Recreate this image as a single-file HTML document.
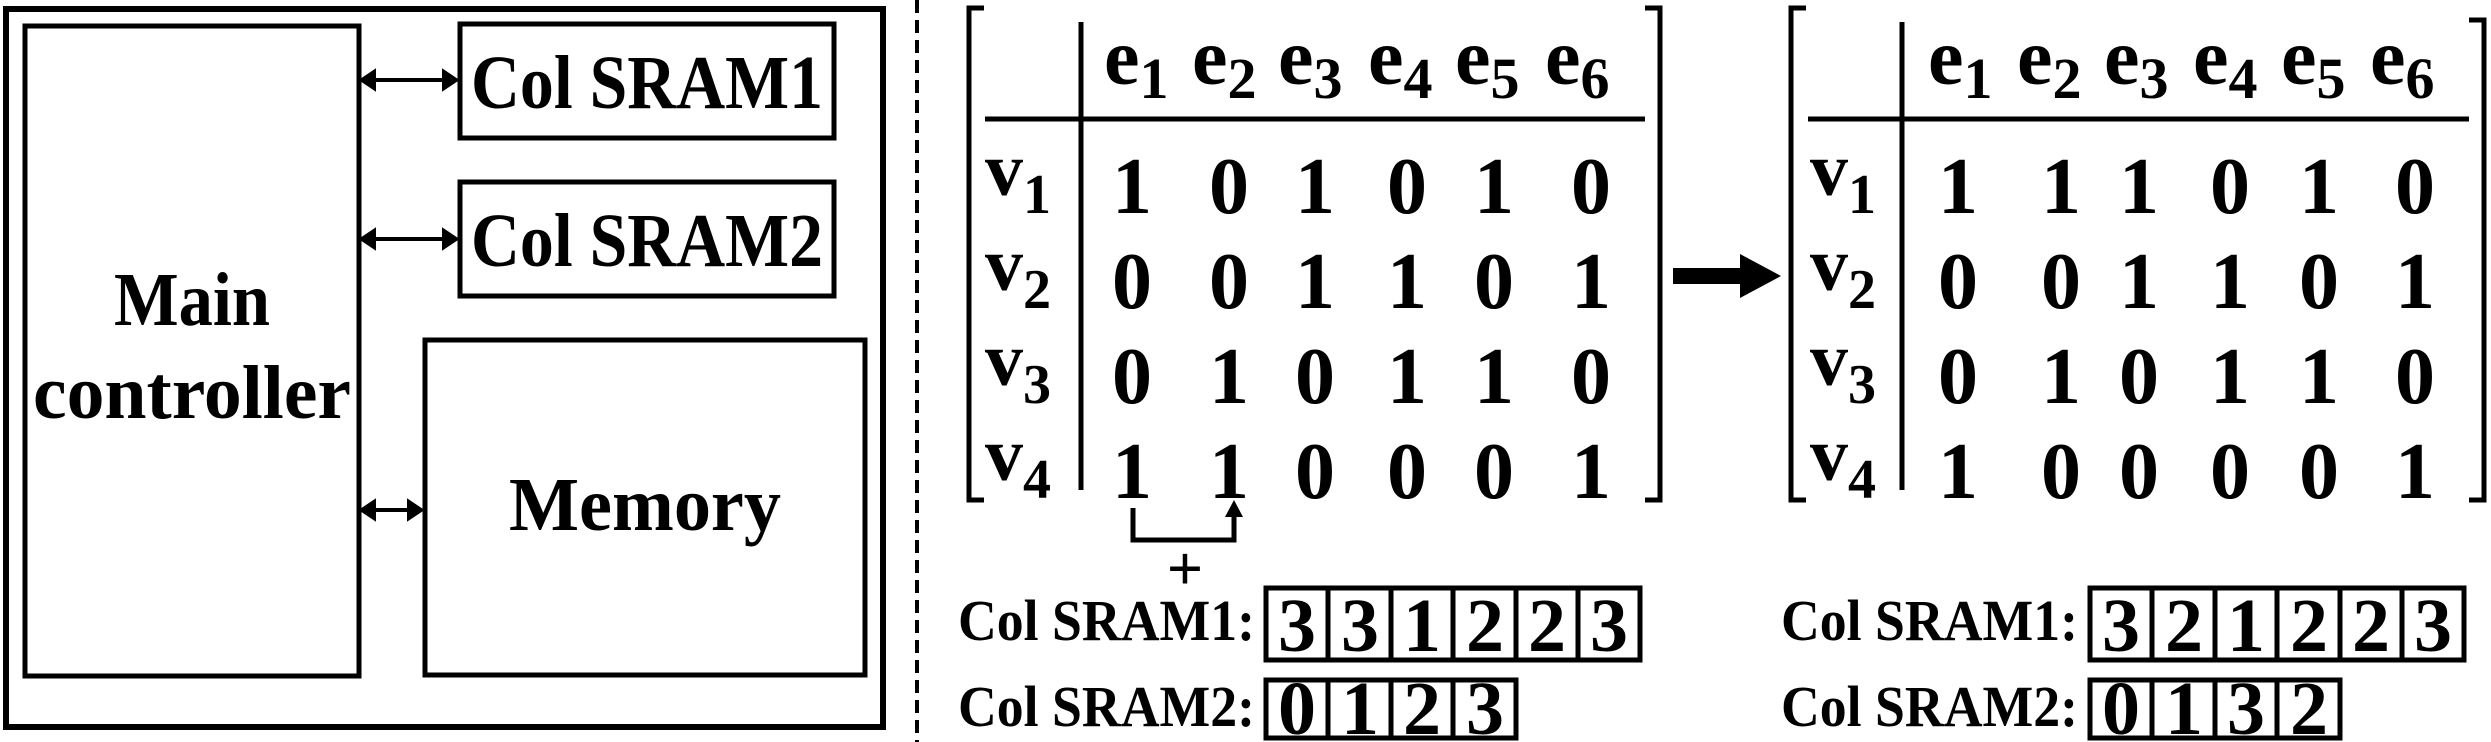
<!DOCTYPE html>
<html><head><meta charset="utf-8"><style>
html,body{margin:0;padding:0;background:#fff;}
svg{display:block;}
text{font-family:"Liberation Serif",serif;fill:#000;}
.b{font-weight:bold;}
</style></head><body>
<svg width="2491" height="742" viewBox="0 0 2491 742" xmlns="http://www.w3.org/2000/svg">
<!-- left panel -->
<rect x="6" y="9" width="877" height="718" fill="none" stroke="#000" stroke-width="6"/>
<rect x="25" y="26" width="334" height="650" fill="none" stroke="#000" stroke-width="5"/>
<rect x="460" y="24" width="374" height="114" fill="none" stroke="#000" stroke-width="5"/>
<rect x="460" y="182" width="374" height="114" fill="none" stroke="#000" stroke-width="5"/>
<rect x="425" y="340" width="440" height="335" fill="none" stroke="#000" stroke-width="5"/>
<g stroke="#000" stroke-width="4">
<line x1="364" y1="80" x2="454" y2="80"/><path d="M362,80 l12,-8 v16z M456,80 l-12,-8 v16z" fill="#000"/>
<line x1="364" y1="239" x2="454" y2="239"/><path d="M362,239 l12,-8 v16z M456,239 l-12,-8 v16z" fill="#000"/>
<line x1="364" y1="510" x2="418" y2="510"/><path d="M362,510 l12,-8 v16z M421,510 l-12,-8 v16z" fill="#000"/>
</g>
<g class="b" font-size="76" text-anchor="middle">
<text x="647" y="108" textLength="352" lengthAdjust="spacingAndGlyphs">Col SRAM1</text>
<text x="647" y="266" textLength="352" lengthAdjust="spacingAndGlyphs">Col SRAM2</text>
<text x="192" y="325" textLength="156" lengthAdjust="spacingAndGlyphs">Main</text>
<text x="192" y="418" textLength="318" lengthAdjust="spacingAndGlyphs">controller</text>
<text x="645" y="530" textLength="272" lengthAdjust="spacingAndGlyphs">Memory</text>
</g>
<!-- dashed -->
<line x1="917" y1="0" x2="917" y2="742" stroke="#000" stroke-width="4" stroke-dasharray="13,7"/>

<!-- matrix 1 -->
<g fill="none" stroke="#000" stroke-width="5">
<path d="M984,8 H969 V500 H984"/>
<path d="M1645,8 H1660 V500 H1645"/>
<line x1="1081" y1="22" x2="1081" y2="490"/>
<line x1="985" y1="119" x2="1645" y2="119"/>
<path d="M1133,508 V540 H1234 V515"/>
</g>
<path d="M1234,500 l-9,17 h18z" fill="#000"/>
<text x="1185" y="590" font-size="64" class="b" text-anchor="middle">+</text>
<g font-size="80" class="b">
<text x="1104" y="84">e<tspan font-size="58" dy="14">1</tspan></text>
<text x="1192" y="84">e<tspan font-size="58" dy="14">2</tspan></text>
<text x="1278" y="84">e<tspan font-size="58" dy="14">3</tspan></text>
<text x="1368" y="84">e<tspan font-size="58" dy="14">4</tspan></text>
<text x="1455" y="84">e<tspan font-size="58" dy="14">5</tspan></text>
<text x="1545" y="84">e<tspan font-size="58" dy="14">6</tspan></text>
</g>
<g font-size="76" class="b">
<text x="985" y="195">v<tspan font-size="56" dy="18">1</tspan></text>
<text x="985" y="290">v<tspan font-size="56" dy="18">2</tspan></text>
<text x="985" y="385">v<tspan font-size="56" dy="18">3</tspan></text>
<text x="985" y="480">v<tspan font-size="56" dy="18">4</tspan></text>
</g>
<g font-size="80" class="b" text-anchor="middle">
<text y="213"><tspan x="1132">1</tspan><tspan x="1229">0</tspan><tspan x="1315">1</tspan><tspan x="1407">0</tspan><tspan x="1494">1</tspan><tspan x="1591">0</tspan></text>
<text y="308"><tspan x="1132">0</tspan><tspan x="1229">0</tspan><tspan x="1315">1</tspan><tspan x="1407">1</tspan><tspan x="1494">0</tspan><tspan x="1591">1</tspan></text>
<text y="403"><tspan x="1132">0</tspan><tspan x="1229">1</tspan><tspan x="1315">0</tspan><tspan x="1407">1</tspan><tspan x="1494">1</tspan><tspan x="1591">0</tspan></text>
<text y="498"><tspan x="1132">1</tspan><tspan x="1229">1</tspan><tspan x="1315">0</tspan><tspan x="1407">0</tspan><tspan x="1494">0</tspan><tspan x="1591">1</tspan></text>
</g>
<!-- SRAM rows 1 -->
<text x="958" y="640" font-size="58" class="b" textLength="297" lengthAdjust="spacingAndGlyphs">Col SRAM1:</text>
<text x="958" y="726" font-size="58" class="b" textLength="297" lengthAdjust="spacingAndGlyphs">Col SRAM2:</text>
<g fill="none" stroke="#000" stroke-width="5">
<rect x="1266" y="588" width="374" height="72"/>
<rect x="1266" y="680" width="250" height="58"/>
<path d="M1328,588 V660 M1391,588 V660 M1453,588 V660 M1516,588 V660 M1578,588 V660"/>
<path d="M1328,680 V738 M1391,680 V738 M1453,680 V738"/>
</g>
<g font-size="76" class="b" text-anchor="middle">
<text y="651"><tspan x="1297">3</tspan><tspan x="1360">3</tspan><tspan x="1422">1</tspan><tspan x="1485">2</tspan><tspan x="1547">2</tspan><tspan x="1609">3</tspan></text>
<text y="734"><tspan x="1297">0</tspan><tspan x="1360">1</tspan><tspan x="1422">2</tspan><tspan x="1485">3</tspan></text>
</g>

<!-- big arrow -->
<path d="M1673,268 H1740 V254 L1781,276 L1740,298 V284 H1673 z" fill="#000"/>

<!-- matrix 2 -->
<g fill="none" stroke="#000" stroke-width="5">
<path d="M1806,8 H1791 V500 H1806"/>
<path d="M2469,20 H2484 V500 H2469"/>
<line x1="1902" y1="22" x2="1902" y2="490"/>
<line x1="1808" y1="119" x2="2469" y2="119"/>
</g>
<g font-size="80" class="b">
<text x="1928" y="84">e<tspan font-size="58" dy="14">1</tspan></text>
<text x="2017" y="84">e<tspan font-size="58" dy="14">2</tspan></text>
<text x="2104" y="84">e<tspan font-size="58" dy="14">3</tspan></text>
<text x="2193" y="84">e<tspan font-size="58" dy="14">4</tspan></text>
<text x="2281" y="84">e<tspan font-size="58" dy="14">5</tspan></text>
<text x="2370" y="84">e<tspan font-size="58" dy="14">6</tspan></text>
</g>
<g font-size="76" class="b">
<text x="1810" y="195">v<tspan font-size="56" dy="18">1</tspan></text>
<text x="1810" y="290">v<tspan font-size="56" dy="18">2</tspan></text>
<text x="1810" y="385">v<tspan font-size="56" dy="18">3</tspan></text>
<text x="1810" y="480">v<tspan font-size="56" dy="18">4</tspan></text>
</g>
<g font-size="80" class="b" text-anchor="middle">
<text y="213"><tspan x="1958">1</tspan><tspan x="2061">1</tspan><tspan x="2139">1</tspan><tspan x="2230">0</tspan><tspan x="2319">1</tspan><tspan x="2415">0</tspan></text>
<text y="308"><tspan x="1958">0</tspan><tspan x="2061">0</tspan><tspan x="2139">1</tspan><tspan x="2230">1</tspan><tspan x="2319">0</tspan><tspan x="2415">1</tspan></text>
<text y="403"><tspan x="1958">0</tspan><tspan x="2061">1</tspan><tspan x="2139">0</tspan><tspan x="2230">1</tspan><tspan x="2319">1</tspan><tspan x="2415">0</tspan></text>
<text y="498"><tspan x="1958">1</tspan><tspan x="2061">0</tspan><tspan x="2139">0</tspan><tspan x="2230">0</tspan><tspan x="2319">0</tspan><tspan x="2415">1</tspan></text>
</g>
<text x="1781" y="640" font-size="58" class="b" textLength="297" lengthAdjust="spacingAndGlyphs">Col SRAM1:</text>
<text x="1781" y="726" font-size="58" class="b" textLength="297" lengthAdjust="spacingAndGlyphs">Col SRAM2:</text>
<g fill="none" stroke="#000" stroke-width="5">
<rect x="2090" y="588" width="374" height="72"/>
<rect x="2090" y="680" width="250" height="58"/>
<path d="M2152,588 V660 M2215,588 V660 M2277,588 V660 M2340,588 V660 M2402,588 V660"/>
<path d="M2152,680 V738 M2215,680 V738 M2277,680 V738"/>
</g>
<g font-size="76" class="b" text-anchor="middle">
<text y="651"><tspan x="2121">3</tspan><tspan x="2184">2</tspan><tspan x="2246">1</tspan><tspan x="2309">2</tspan><tspan x="2371">2</tspan><tspan x="2433">3</tspan></text>
<text y="734"><tspan x="2121">0</tspan><tspan x="2184">1</tspan><tspan x="2246">3</tspan><tspan x="2309">2</tspan></text>
</g>
</svg>
</body></html>
